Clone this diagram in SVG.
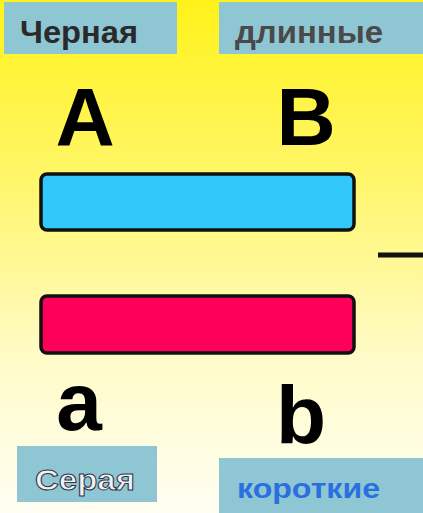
<svg xmlns="http://www.w3.org/2000/svg" width="423" height="513" viewBox="0 0 423 513">
<defs>
<linearGradient id="bg" x1="0" y1="0" x2="0" y2="1">
<stop offset="0" stop-color="#FFF21A"/>
<stop offset="0.35" stop-color="#FFF66A"/>
<stop offset="0.7" stop-color="#FFFBC8"/>
<stop offset="1" stop-color="#FFFEF2"/>
</linearGradient>
</defs>
<style>
.lbl{fill:#8FC6D4}
.t{font-family:"Liberation Sans",Arial,sans-serif;font-weight:bold}
.big{font-family:"Liberation Sans",Arial,sans-serif;font-weight:bold;font-size:82px;fill:#000}
.bar{stroke:#111;stroke-width:3.5}
</style>
<rect width="423" height="513" fill="url(#bg)"/>
<g id="label-chernaya">
<rect class="lbl" x="4" y="2" width="173" height="52"/>
<text class="t" x="20" y="43" font-size="31" fill="#2a2a2a" textLength="118" lengthAdjust="spacingAndGlyphs">Черная</text>
</g>
<g id="label-dlinnye">
<rect class="lbl" x="219" y="2" width="204" height="52"/>
<text class="t" x="235" y="43" font-size="31" fill="#4a4a4a" textLength="148" lengthAdjust="spacingAndGlyphs">длинные</text>
</g>
<g id="letter-A"><text class="big" x="85" y="145" text-anchor="middle">A</text></g>
<g id="letter-B"><text class="big" x="306" y="145" text-anchor="middle">B</text></g>
<g id="bar-blue"><rect class="bar" x="41" y="174" width="313" height="56" rx="6" fill="#33C8FA"/></g>
<g id="bar-red"><rect class="bar" x="41" y="296" width="313" height="57" rx="6" fill="#FF0058"/></g>
<g id="connectors"><line x1="378" y1="255" x2="423" y2="255" stroke="#111" stroke-width="5"/></g>
<g id="letter-a"><text class="big" x="79" y="430" text-anchor="middle">a</text></g>
<g id="letter-b"><text class="big" x="301" y="443" text-anchor="middle">b</text></g>
<g id="label-seraya">
<rect class="lbl" x="17" y="446" width="140" height="56"/>
<text class="t" x="35" y="490" font-size="30" fill="#eef2f4" stroke="#334" stroke-width="1" textLength="100" lengthAdjust="spacingAndGlyphs">Серая</text>
</g>
<g id="label-korotkie">
<rect class="lbl" x="219" y="458" width="204" height="55"/>
<text class="t" x="237" y="498" font-size="27" fill="#2A6FE0" textLength="143" lengthAdjust="spacingAndGlyphs">короткие</text>
</g>
</svg>
